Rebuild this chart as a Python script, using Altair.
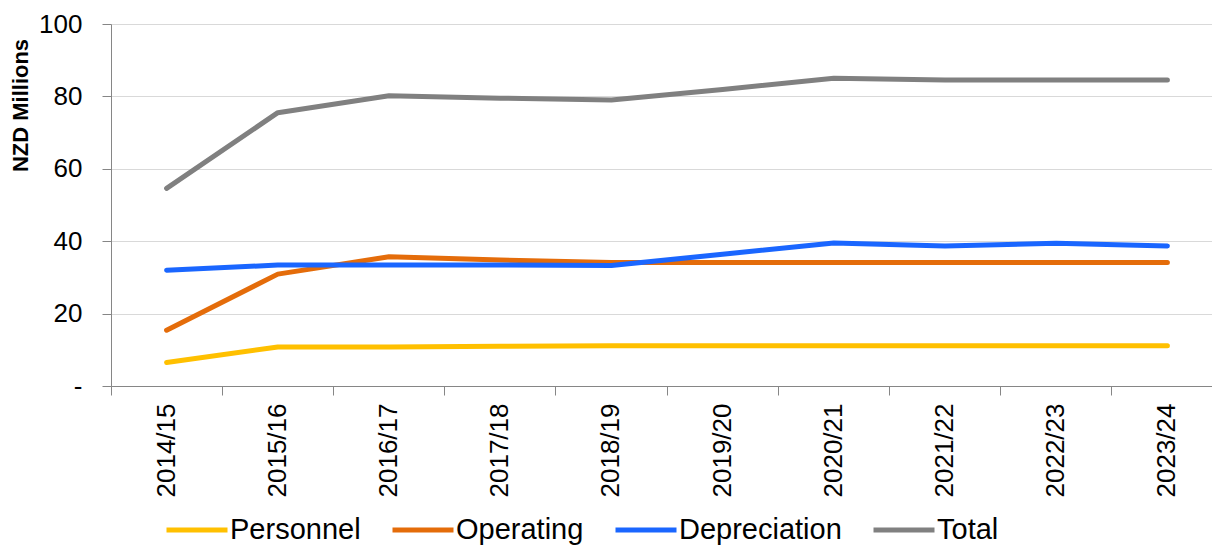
import altair as alt
import pandas as pd

years = ["2014/15", "2015/16", "2016/17", "2017/18", "2018/19",
         "2019/20", "2020/21", "2021/22", "2022/23", "2023/24"]
personnel = [6.5, 10.8, 10.8, 11.0, 11.1, 11.1, 11.1, 11.1, 11.1, 11.1]
operating = [15.4, 30.9, 35.7, 34.8, 34.1, 34.1, 34.1, 34.1, 34.1, 34.1]
depreciation = [32.0, 33.4, 33.4, 33.4, 33.3, 36.4, 39.5, 38.7, 39.4, 38.7]
total = [54.6, 75.5, 80.2, 79.5, 79.0, 81.9, 85.0, 84.5, 84.5, 84.5]

series_names = ["Personnel", "Operating", "Depreciation", "Total"]
series_colors = ["#FFC000", "#E46C0A", "#1A66FF", "#808080"]
series_values = [personnel, operating, depreciation, total]

rows = []
for name, vals in zip(series_names, series_values):
    for yr, v in zip(years, vals):
        rows.append({"Year": yr, "Series": name, "Value": v})
df = pd.DataFrame(rows)

FONT = "Liberation Sans"

chart = alt.Chart(df).mark_line(strokeWidth=5, strokeCap="round", strokeJoin="round").encode(
    x=alt.X(
        "Year:N",
        sort=years,
        scale=alt.Scale(type="band", paddingInner=0, paddingOuter=0, range=[0, 1112]),
        axis=alt.Axis(
            title=None,
            labelAngle=-90,
            labelFontSize=26,
            labelFont=FONT,
            labelColor="#000000",
            labelPadding=8,
            tickSize=9,
            tickColor="#868686",
            domainColor="#868686",
            bandPosition=0,
            grid=False,
        ),
    ),
    y=alt.Y(
        "Value:Q",
        scale=alt.Scale(domain=[0, 100], nice=False),
        axis=alt.Axis(
            title="NZD Millions",
            titleFont=FONT,
            titleFontSize=22,
            titleFontWeight="bold",
            titleColor="#000000",
            titleAngle=-90,
            titleAlign="center",
            titleBaseline="middle",
            titleX=-91,
            titleY=81,
            values=[0, 20, 40, 60, 80, 100],
            labelExpr="datum.value == 0 ? '-\u00a0\u00a0' : datum.label",
            labelFontSize=26,
            labelFont=FONT,
            labelColor="#000000",
            labelPadding=20,
            tickSize=9,
            tickColor="#868686",
            domainColor="#868686",
            gridColor="#D9D9D9",
            gridWidth=1,
        ),
    ),
    color=alt.Color(
        "Series:N",
        sort=series_names,
        scale=alt.Scale(domain=series_names, range=series_colors),
        legend=alt.Legend(
            title=None,
            orient="none",
            direction="horizontal",
            legendX=53,
            legendY=473,
            symbolType="stroke",
            symbolSize=3721,
            symbolStrokeWidth=5,
            labelFont=FONT,
            labelFontSize=29,
            labelColor="#000000",
            labelOffset=0,
            labelLimit=400,
            columnPadding=21,
            padding=0,
        ),
    ),
).properties(
    width=1101,
    height=362,
    autosize=alt.AutoSizeParams(type="none"),
    padding={"left": 103, "top": 16, "right": 0, "bottom": 159},
).configure_view(stroke=None)

chart.save("out.html", embed_options={"renderer": "svg", "actions": False})
